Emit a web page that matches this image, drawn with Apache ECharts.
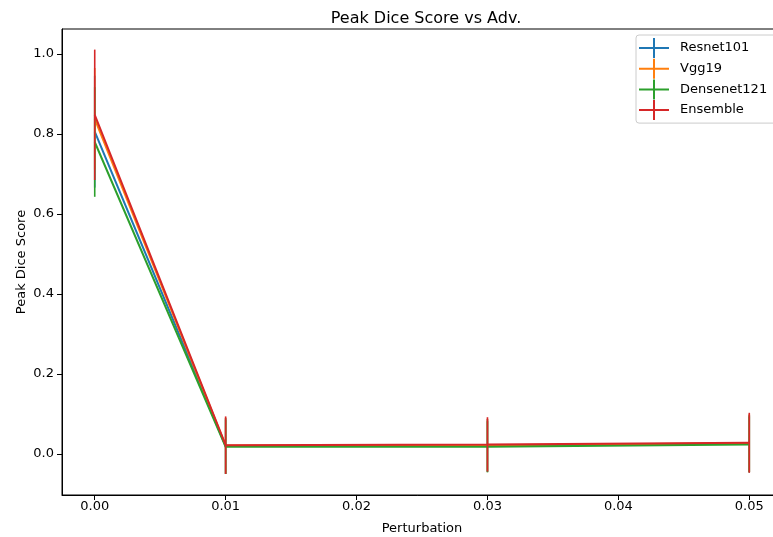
<!DOCTYPE html>
<html><head><meta charset="utf-8">
<script src="https://cdn.jsdelivr.net/npm/echarts@6/dist/echarts.min.js"></script>
<style>html,body{margin:0;padding:0;background:#fff}#c{width:773px;height:537px}</style>
</head><body><div id="c"></div>
<script>
const perturbation = [0.00, 0.01, 0.03, 0.05];
const seriesNames = ['Resnet101', 'Vgg19', 'Densenet121', 'Ensemble'];
const resnet101 = [0.806, 0.020, 0.021, 0.026];
const vgg19 = [0.838, 0.021, 0.022, 0.027];
const densenet121 = [0.780, 0.018, 0.018, 0.024];
const ensemble = [0.848, 0.022, 0.024, 0.028];
const resnet101Err = [0.140, 0.070, 0.066, 0.072];
const vgg19Err = [0.127, 0.070, 0.066, 0.072];
const densenet121Err = [0.137, 0.068, 0.064, 0.070];
const ensembleErr = [0.163, 0.072, 0.068, 0.075];
const xTicks = [0.00, 0.01, 0.02, 0.03, 0.04, 0.05];
const yTicks = [0.0, 0.2, 0.4, 0.6, 0.8, 1.0];

const colors = ['#1f77b4', '#ff7f0e', '#2ca02c', '#d62728'];
const values = [resnet101, vgg19, densenet121, ensemble];
const errs = [resnet101Err, vgg19Err, densenet121Err, ensembleErr];
const FONT = 'DejaVu Sans';

const series = [];
seriesNames.forEach((name, i) => {
  series.push({
    name: name, type: 'line', showSymbol: false, symbol: 'none',
    data: perturbation.map((x, k) => [x, values[i][k]]),
    lineStyle: { color: colors[i], width: 2 }, itemStyle: { color: colors[i] },
    z: 2 + i * 2 + 1, animation: false
  });
  series.push({
    name: name, type: 'custom',
    data: perturbation.map((x, k) => [x, values[i][k], errs[i][k]]),
    renderItem: function (params, api) {
      const x = api.value(0), v = api.value(1), e = api.value(2);
      const p1 = api.coord([x, v - e]), p2 = api.coord([x, v + e]);
      return { type: 'line', shape: { x1: p1[0], y1: p1[1], x2: p2[0], y2: p2[1] },
        style: { stroke: colors[i], lineWidth: 1.6 } };
    },
    itemStyle: { color: colors[i] },
    z: 2 + i * 2, animation: false
  });
});

const chart = echarts.init(document.getElementById('c'));
chart.setOption({
  animation: false,
  backgroundColor: '#fff',
  title: { text: 'Peak Dice Score vs Adv.', left: 421, textAlign: 'center', top: 6,
    textStyle: { fontFamily: FONT, fontSize: 16, fontWeight: 'normal', color: '#000' } },
  legend: {
    data: seriesNames.map((n, i) => ({ name: n, icon: 'path://M0,9h30v2h-30z M14,0h2v20h-2z' })),
    orient: 'vertical', left: 636, top: 35, itemWidth: 30, itemHeight: 20, itemGap: 0.7,
    padding: [3, 10, 3, 3], borderColor: '#cccccc', borderWidth: 1, borderRadius: 3,
    backgroundColor: 'rgba(255,255,255,0.8)',
    textStyle: { fontFamily: FONT, fontSize: 13, color: '#000', padding: [0, 0, 0, 6] }
  },
  grid: { left: 62, top: 29, width: 720, bottom: 42, show: true, borderColor: '#000', borderWidth: 1,
    containLabel: false, outerBoundsMode: 'none' },
  xAxis: {
    type: 'value', min: -0.0025, max: 0.0525,
    name: 'Perturbation', nameLocation: 'middle', nameGap: 27,
    nameTextStyle: { fontFamily: FONT, fontSize: 13, color: '#000' },
    axisLine: { show: true, onZero: false, lineStyle: { color: '#000', width: 1 } },
    axisTick: { show: true, length: 5, lineStyle: { color: '#000' }, customValues: xTicks },
    axisLabel: { fontFamily: FONT, fontSize: 13, color: '#000', margin: 5, customValues: xTicks,
      formatter: v => v.toFixed(2) },
    splitLine: { show: false }
  },
  yAxis: {
    type: 'value', min: -0.1025, max: 1.0625,
    name: 'Peak Dice Score', nameLocation: 'middle', nameGap: 34, nameMoveOverlap: false,
    nameTextStyle: { fontFamily: FONT, fontSize: 13, color: '#000' },
    axisLine: { show: true, onZero: false, lineStyle: { color: '#000', width: 1 } },
    axisTick: { show: true, length: 5, lineStyle: { color: '#000' }, customValues: yTicks },
    axisLabel: { fontFamily: FONT, fontSize: 13, color: '#000', margin: 8, customValues: yTicks,
      formatter: v => v.toFixed(1) },
    splitLine: { show: false }
  },
  series: series
});
</script></body></html>
